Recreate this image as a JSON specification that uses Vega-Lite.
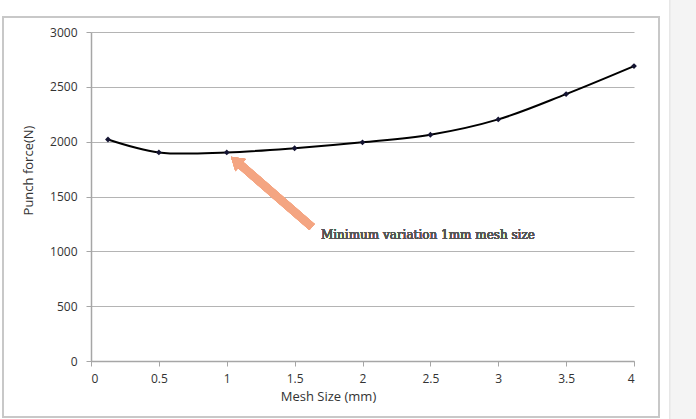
{
  "$schema": "https://vega.github.io/schema/vega-lite/v6.json",
  "autosize": {"type": "none"},
  "width": 543,
  "height": 329,
  "padding": {"left": 91, "top": 32, "right": 62, "bottom": 58},
  "background": "white",
  "config": {"view": {"stroke": null}},
  "data": {"values": [
    {"mesh": 0.125, "force": 2020},
    {"mesh": 0.5, "force": 1902},
    {"mesh": 1, "force": 1902},
    {"mesh": 1.5, "force": 1940},
    {"mesh": 2, "force": 1994},
    {"mesh": 2.5, "force": 2063},
    {"mesh": 3, "force": 2203},
    {"mesh": 3.5, "force": 2434},
    {"mesh": 4, "force": 2689}
  ]},
  "layer": [
    {
      "mark": {"type": "rect", "fill": "#f4f4f4", "stroke": "#e6e6e6", "strokeWidth": 1, "clip": false},
      "encoding": {
        "x": {"datum": 4.265, "type": "quantitative", "scale": {"domain": [0, 4], "nice": false}},
        "x2": {"datum": 4.5},
        "y": {"datum": 3340, "type": "quantitative", "scale": {"domain": [0, 3000], "nice": false}},
        "y2": {"datum": -590}
      }
    },
    {
      "mark": {"type": "rect", "fill": "transparent", "stroke": "#c8c8c8", "strokeWidth": 1.5, "clip": false},
      "encoding": {
        "x": {"datum": -0.648, "type": "quantitative"},
        "x2": {"datum": 4.184},
        "y": {"datum": 3136, "type": "quantitative"},
        "y2": {"datum": -510}
      }
    },
    {
      "mark": {"type": "line", "color": "#000000", "strokeWidth": 2, "interpolate": "catmull-rom"},
      "encoding": {
        "x": {
          "field": "mesh", "type": "quantitative",
          "scale": {"domain": [0, 4], "nice": false},
          "axis": {
            "values": [0, 0.5, 1, 1.5, 2, 2.5, 3, 3.5, 4],
            "format": "~g",
            "title": "Mesh Size (mm)",
            "titleX": 237,
            "titleY": 29,
            "titleFont": "Open Sans", "titleFontSize": 13, "titleFontWeight": "normal", "titleColor": "#333333",
            "labelFont": "Open Sans", "labelFontSize": 12, "labelColor": "#333333",
            "labelPadding": 7,
            "domainColor": "#a6a6a6", "domainWidth": 1.5,
            "tickColor": "#a6a6a6", "tickSize": 5,
            "grid": false
          }
        },
        "y": {
          "field": "force", "type": "quantitative",
          "scale": {"domain": [0, 3000], "nice": false},
          "axis": {
            "values": [0, 500, 1000, 1500, 2000, 2500, 3000],
            "format": "d",
            "title": "Punch force(N)",
            "titleX": -56,
            "titleY": 138,
            "titleFont": "Open Sans", "titleFontSize": 13, "titleFontWeight": "normal", "titleColor": "#333333",
            "labelFont": "Open Sans", "labelFontSize": 12, "labelColor": "#333333",
            "labelPadding": 9,
            "domainColor": "#a6a6a6", "domainWidth": 1.5,
            "tickColor": "#a6a6a6", "tickSize": 5,
            "grid": true, "gridColor": "#b4b4b4", "gridWidth": 1.2
          }
        }
      }
    },
    {
      "mark": {"type": "point", "shape": "diamond", "filled": true, "color": "#141432", "size": 34, "opacity": 1},
      "encoding": {
        "x": {"field": "mesh", "type": "quantitative"},
        "y": {"field": "force", "type": "quantitative"}
      }
    },
    {
      "mark": {"type": "rule", "color": "#f4a582", "strokeWidth": 8},
      "encoding": {
        "x": {"datum": 1.628, "type": "quantitative"},
        "y": {"datum": 1222, "type": "quantitative"},
        "x2": {"datum": 1.09},
        "y2": {"datum": 1800}
      }
    },
    {
      "mark": {"type": "point", "shape": "M0,-1L1,0.6L-1,0.6Z", "filled": true, "color": "#f4a582", "size": 256, "angle": 311, "opacity": 1},
      "encoding": {
        "x": {"datum": 1.0755, "type": "quantitative"},
        "y": {"datum": 1815, "type": "quantitative"}
      }
    },
    {
      "mark": {"type": "text", "text": "Minimum variation 1mm mesh size", "font": "DejaVu Serif", "fontSize": 12, "fontWeight": "normal", "color": "#555555", "align": "left", "baseline": "middle"},
      "encoding": {
        "x": {"datum": 1.694, "type": "quantitative"},
        "y": {"datum": 1149, "type": "quantitative"}
      }
    }
  ]
}
